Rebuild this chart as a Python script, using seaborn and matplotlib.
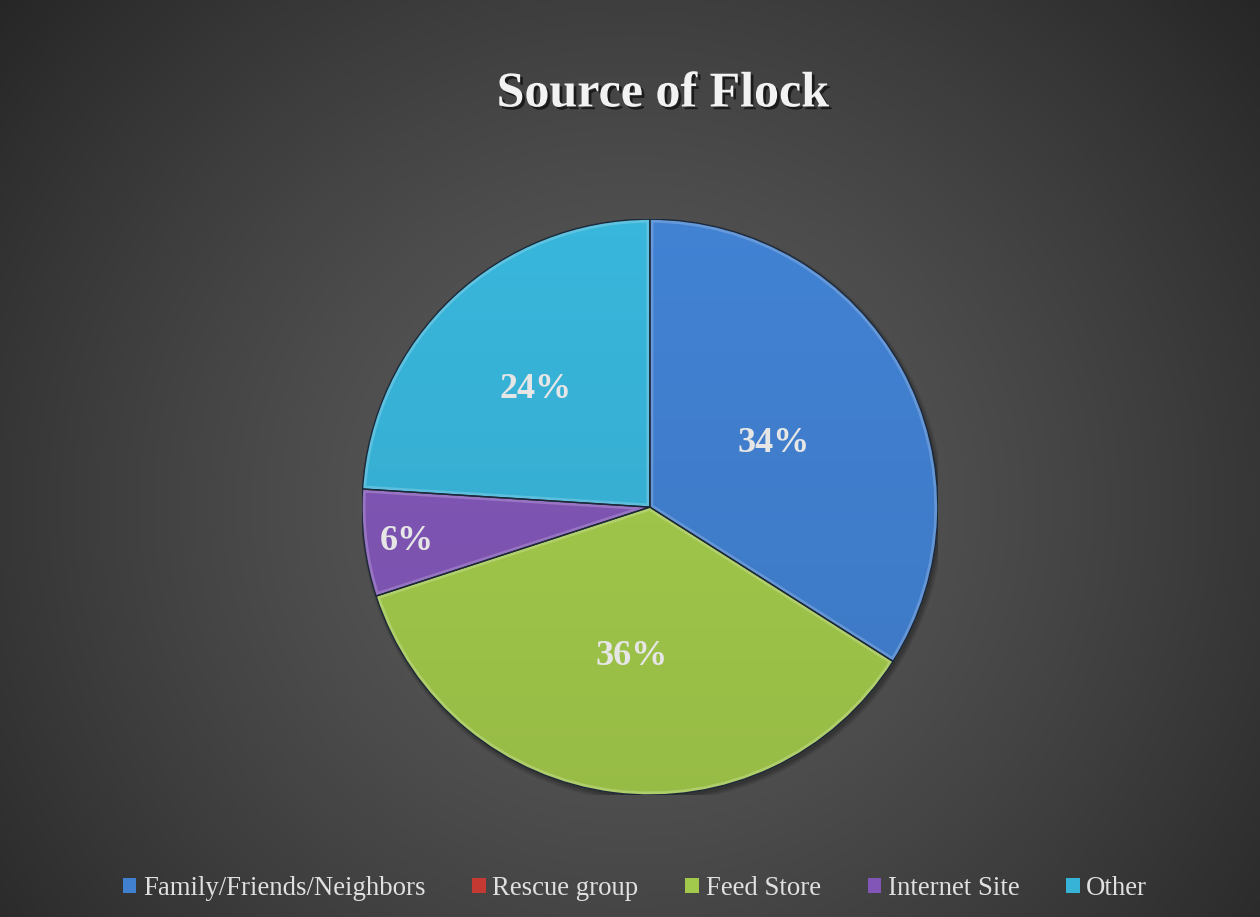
import numpy as np
import matplotlib
matplotlib.use("Agg")
import matplotlib.pyplot as plt
import matplotlib.patheffects as pe
from matplotlib.patches import Rectangle, Circle, Wedge
from matplotlib.colors import to_rgb
import seaborn as sns

categories = ["Family/Friends/Neighbors", "Rescue group", "Feed Store", "Internet Site", "Other"]
shares = [34, 0, 36, 6, 24]
colors = ["#4180D0", "#C43A32", "#A2C94B", "#8156B6", "#38B3D8"]
label_radius = [0.49, 0.0, 0.51, 0.85, 0.58]
title = "Source of Flock"

sns.set_style("dark")
plt.rcParams["font.family"] = ["Liberation Serif", "DejaVu Serif"]

fig = plt.figure(figsize=(12.6, 9.17), dpi=100)

# radial dark-grey background
bg = fig.add_axes([0, 0, 1, 1])
yy, xx = np.mgrid[0:1:400j, 0:1:550j]
d = np.sqrt(((xx - 0.5) * 1.25) ** 2 + ((yy - 0.45) * 0.95) ** 2)
d = np.clip(d / d.max(), 0, 1)
lev = 0.365 - 0.215 * d ** 1.3
bg.imshow(np.dstack([lev, lev, lev]), extent=[0, 1, 0, 1], aspect="auto", origin="lower")
bg.set_axis_off()

ax = fig.add_axes([0.2873, 0.133, 0.457, 0.628])

# soft drop shadow behind the whole pie
for k, a in enumerate([0.10, 0.10, 0.12]):
    ax.add_patch(Circle((0.008, -0.012), 1.0 + 0.006 * (2 - k), facecolor="black",
                        edgecolor="none", alpha=a, zorder=0))

wedges, _ = ax.pie(
    shares, colors=colors, startangle=90, counterclock=False, radius=1,
    wedgeprops=dict(edgecolor="none", linewidth=0),
)

# vertical shading inside every slice plus a light bevel along its edges
gy = np.linspace(-1, 1, 300)[:, None] * np.ones((1, 300))
shade = 0.90 + 0.08 * (gy + 1) / 2
for w, c in zip(wedges, colors):
    if w.theta2 - w.theta1 <= 0:
        continue
    rgb = np.array(to_rgb(c))
    img = np.clip(shade[..., None] * rgb[None, None, :] * 1.04, 0, 1)
    im = ax.imshow(img, extent=[-1, 1, -1, 1], origin="lower", zorder=1.5, interpolation="bilinear")
    im.set_clip_path(w)
    light = np.clip(rgb + (1 - rgb) * 0.35, 0, 1)
    bevel = Wedge(w.center, w.r, w.theta1, w.theta2, facecolor="none", edgecolor=light,
                  linewidth=5, alpha=0.55, zorder=1.7)
    ax.add_patch(bevel)
    bevel.set_clip_path(w)
    ax.add_patch(Wedge(w.center, w.r, w.theta1, w.theta2, facecolor="none",
                       edgecolor="#1c2838", linewidth=1.0, zorder=1.8))

for w, v, r in zip(wedges, shares, label_radius):
    if v == 0:
        continue
    mid = np.deg2rad((w.theta1 + w.theta2) / 2)
    ax.text(r * np.cos(mid), r * np.sin(mid), f"{v}%", ha="center", va="center_baseline",
            fontsize=26, fontweight="bold", color="#E6E6E6", zorder=3)

ax.set_xlim(-1, 1)
ax.set_ylim(-1, 1)
ax.set_aspect("equal")
ax.set_axis_off()

fig.text(0.526, 0.897, title, ha="center", va="center", fontsize=36, fontweight="bold",
         color="#F2F2F2",
         path_effects=[pe.withSimplePatchShadow(offset=(2, -2), shadow_rgbFace="black", alpha=0.6)])

handles = [Rectangle((0, 0), 1, 1, facecolor=c, edgecolor="none") for c in colors]
fig.legend(handles, categories, loc="center", bbox_to_anchor=(0.504, 0.031), ncol=5,
           frameon=False, fontsize=19.3, labelcolor="#E0E0E0", handlelength=0.5,
           handleheight=0.5, handletextpad=0.25, columnspacing=1.75)

fig.savefig("out.png", dpi=100)
